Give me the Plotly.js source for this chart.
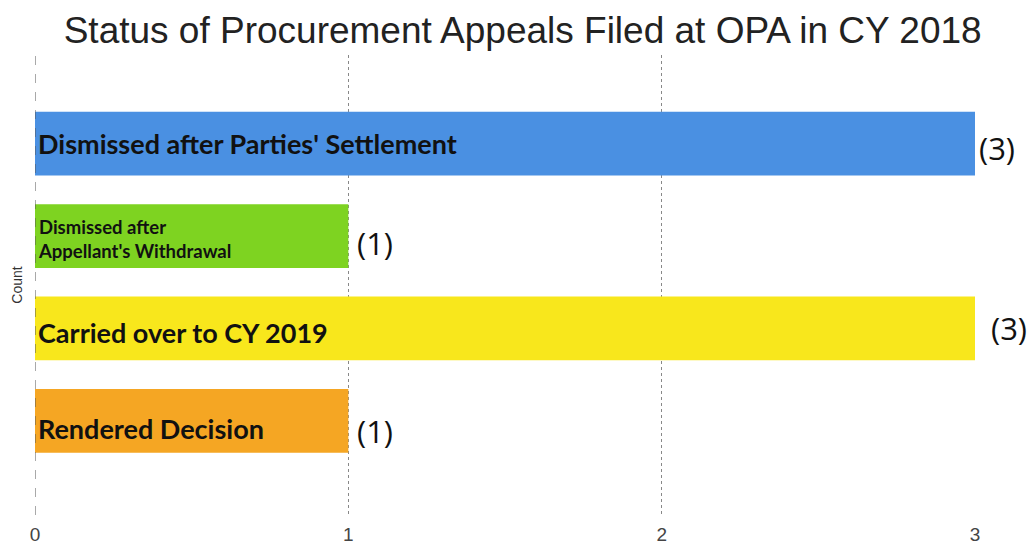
<!DOCTYPE html>
<html><head><meta charset="utf-8">
<script src="https://cdn.plot.ly/plotly-3.0.1.min.js"></script>
<style>html,body{margin:0;padding:0;background:#fff}#chart{width:1033px;height:546px}</style>
</head><body><div id="chart"></div>
<script>
const categories = ["Dismissed after Parties' Settlement", "Dismissed after<br>Appellant's Withdrawal", "Carried over to CY 2019", "Rendered Decision"];
const counts = [3, 1, 3, 1];
const valueLabels = ["(3)", "(1)", "(3)", "(1)"];
const barColors = ["#4a90e2", "#7ed321", "#f8e71c", "#f5a623"];
const xTicks = [0, 1, 2, 3];

const labelSizes = categories.map(c => c.includes("<br>") ? 18.5 : 27);
const labelYShift = [0, -3, -4, -8];
const valueShift = [2, 7, 14, 7];
const valueYShift = [-4, -7, 0, -10];

const trace = {
  type: 'bar', orientation: 'h',
  x: counts, y: categories,
  marker: {color: barColors},
  width: 0.69,
  hoverinfo: 'none'
};

const catAnnotations = categories.map((c, i) => ({
  x: 0, y: c, xref: 'x', yref: 'y',
  text: '<b>' + c.replace('<br>', '</b><br><b>') + '</b>', showarrow: false,
  xanchor: 'left', align: 'left', xshift: 1, yshift: labelYShift[i],
  font: {family: 'Lato', size: labelSizes[i], color: '#111'}
}));

const valAnnotations = counts.map((v, i) => ({
  x: v, y: categories[i], xref: 'x', yref: 'y',
  text: valueLabels[i], showarrow: false,
  xanchor: 'left', xshift: valueShift[i], yshift: valueYShift[i],
  font: {family: 'Open Sans', size: 31, color: '#111'}
}));

const layout = {
  width: 1033, height: 546,
  margin: {l: 35, r: 58, t: 55, b: 31},
  paper_bgcolor: '#fff', plot_bgcolor: '#fff',
  showlegend: false,
  title: {text: 'Status of Procurement Appeals Filed at OPA in CY 2018',
          font: {family: 'Liberation Sans, Arial', size: 37, color: '#222'},
          x: 0.506, xanchor: 'center', y: 0.945, yanchor: 'middle'},
  xaxis: {range: [0, 3], tickvals: xTicks, ticktext: xTicks.map(String),
          showgrid: true, gridcolor: '#888', griddash: 'dot', gridwidth: 1,
          zeroline: false, showline: false, ticks: '', ticklabelstandoff: 6,
          tickfont: {family: 'Liberation Sans, Arial', size: 19, color: '#444'},
          fixedrange: true},
  yaxis: {type: 'category', categoryorder: 'array', categoryarray: categories.slice().reverse(),
          range: [-1.02, 3.96], showticklabels: false, showgrid: false, zeroline: false, ticks: '',
          title: {text: 'Count', font: {family: 'Liberation Sans, Arial', size: 14, color: '#333'}, standoff: 8}},
  annotations: catAnnotations.concat(valAnnotations),
  shapes: [{type: 'line', xref: 'x', yref: 'paper', x0: 0, x1: 0, y0: 0, y1: 1,
            line: {color: '#555', width: 1, dash: 'dash'}, layer: 'above'}]
};

Plotly.newPlot('chart', [trace], layout, {displayModeBar: false, staticPlot: true});
</script></body></html>
